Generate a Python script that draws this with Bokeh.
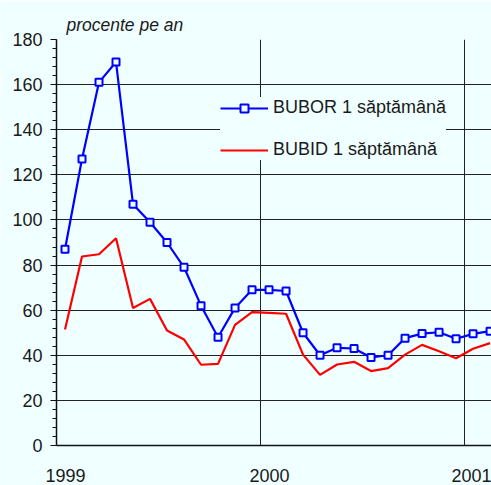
from bokeh.plotting import figure
from bokeh.models import Range1d, FixedTicker, Legend, LegendItem
from bokeh.embed import file_html
from bokeh.resources import INLINE

# ---- data ----
years = [1999] * 12 + [2000] * 12 + [2001] * 2
months = list(range(1, 13)) + list(range(1, 13)) + [1, 2]
bubor = [87, 127, 161, 170, 107, 99, 90, 79, 62, 48, 61, 69,
         69, 68.5, 50, 40, 43.3, 43, 39, 40, 47.6, 49.6, 50.2, 47.3,
         49.5, 50.7]
bubid = [51.4, 83.8, 84.8, 91.9, 61, 65, 51, 47, 35.8, 36.2, 53.5, 59.1,
         58.8, 58.4, 40.3, 31.3, 35.9, 37.1, 33, 34.3, 40.3, 44.6, 41.8, 38.7,
         42.9, 45.4]
year_ticks = [1999, 2000, 2001]
year_labels = ["1999", "2000", "2001"]
y_ticks = [0, 20, 40, 60, 80, 100, 120, 140, 160, 180]
series_names = ["BUBOR 1 săptămână", "BUBID 1 săptămână"]
unit_title = "procente pe an"

x = [y + (m - 0.5) / 12 for y, m in zip(years, months)]

BG = "#F0FFFF"
FONT = "Liberation Sans"
TXT = "#1a1a1a"
FS = "18px"

p = figure(width=491, height=485, output_backend="svg", toolbar_location=None,
           x_range=Range1d(1999, 2001.132), y_range=Range1d(0, 180),
           min_border_left=56, min_border_right=0, min_border_top=39,
           min_border_bottom=40, background_fill_color=BG,
           border_fill_color=BG, outline_line_color=None)

# title
p.title.text = unit_title
p.title.text_font = FONT
p.title.text_font_style = "italic"
p.title.text_font_size = "17.5px"
p.title.text_color = TXT
p.title.align = "left"
p.title.offset = 10

# grids
p.xgrid.ticker = FixedTicker(ticks=year_ticks[1:])
p.xgrid.grid_line_color = "#222222"
p.xgrid.grid_line_width = 1
p.ygrid.ticker = FixedTicker(ticks=y_ticks[1:])
p.ygrid.grid_line_color = "#222222"
p.ygrid.grid_line_width = 1

# y axis
yax = p.yaxis[0]
yax.ticker = FixedTicker(ticks=y_ticks, minor_ticks=[v for v in range(0, 181, 4)])
yax.axis_line_color = "#111111"
yax.axis_line_width = 1.5
yax.major_tick_in = 0
yax.major_tick_out = 6
yax.minor_tick_in = 0
yax.minor_tick_out = 4
yax.major_tick_line_color = "#111111"
yax.minor_tick_line_color = "#111111"
yax.major_label_text_font = FONT
yax.major_label_text_font_size = FS
yax.major_label_text_color = TXT
yax.major_label_standoff = 8

# x axis (labels drawn slightly right of the year lines, as in the original)
shift = 0.044
xax = p.xaxis[0]
xax.ticker = FixedTicker(ticks=[t + shift for t in year_ticks])
xax.major_label_overrides = {t + shift: lab for t, lab in zip(year_ticks, year_labels)}
xax.axis_line_color = "#111111"
xax.axis_line_width = 1.5
xax.major_tick_line_color = None
xax.minor_tick_line_color = None
xax.major_tick_out = 0
xax.major_tick_in = 0
xax.major_label_text_font = FONT
xax.major_label_text_font_size = FS
xax.major_label_text_color = TXT
xax.major_label_standoff = 23

# series
l1 = p.line(x, bubor, line_color="#0000FF", line_width=2.2)
s1 = p.scatter(x, bubor, marker="square", size=7, line_color="#0000FF",
               line_width=2, fill_color=BG)
l2 = p.line(x, bubid, line_color="#FF0000", line_width=2.2)

legend = Legend(items=[LegendItem(label=series_names[0], renderers=[l1, s1]),
                       LegendItem(label=series_names[1], renderers=[l2])],
                location=(164, 285), margin=0, padding=12, spacing=21,
                glyph_width=48, glyph_height=20, label_height=20,
                label_standoff=5, label_text_font=FONT,
                label_text_font_size=FS, label_text_color=TXT,
                background_fill_color=BG, background_fill_alpha=1,
                border_line_color=None)
p.add_layout(legend)

open("out.html", "w").write(file_html(p, INLINE))
